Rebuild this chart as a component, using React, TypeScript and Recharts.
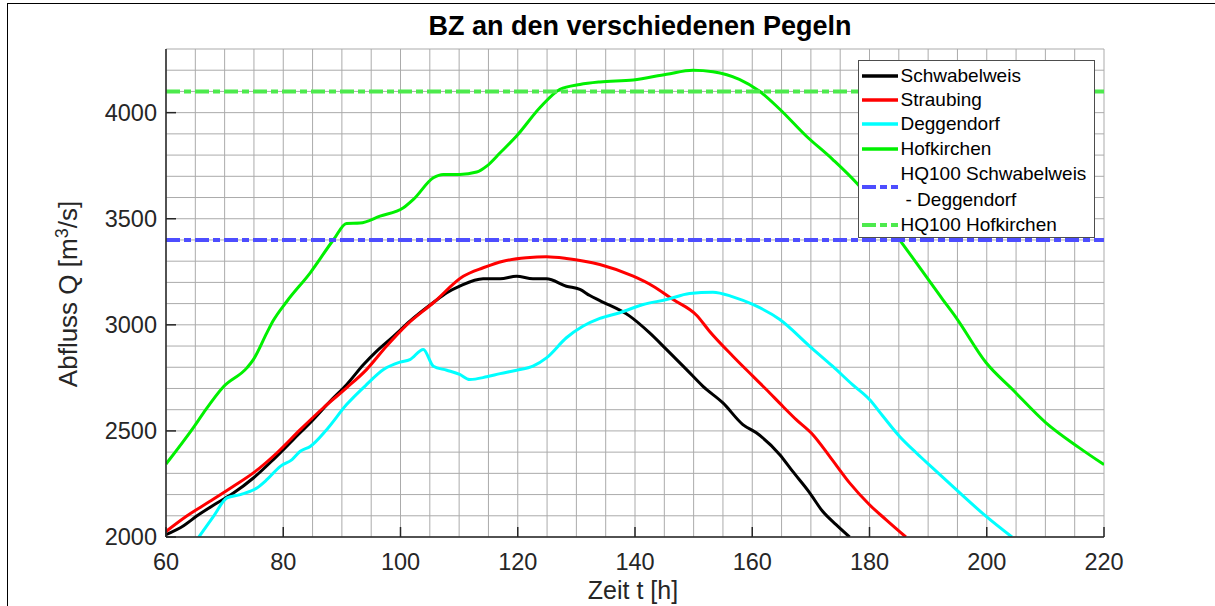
import { LineChart, Line, XAxis, YAxis, CartesianGrid, ReferenceLine, Legend } from 'recharts'

const FONT = '"Liberation Sans", Arial, Helvetica, sans-serif'

// Zeit t [h] / Abfluss Q [m3/s]
const schwabelweisT = [60, 63, 65.3, 68.7, 71.5, 74.9, 78.3, 81.7, 85.1, 88, 90.8, 93.7, 95.9, 98.8, 101.6, 105.6, 107.9, 110.1, 114.1, 117, 119.8, 122.6, 124.9, 128.3, 130.6, 132.3, 134, 139.1, 142.5, 145.4, 148.8, 151.6, 155, 158.4, 160.7, 164.7, 166.9, 169.8, 172, 174.3, 176.6]
const schwabelweisQ = [2011, 2053, 2100, 2160, 2207, 2278, 2365, 2459, 2553, 2640, 2718, 2813, 2875, 2946, 3017, 3105, 3151, 3182, 3217, 3217, 3229, 3217, 3217, 3182, 3167, 3138, 3114, 3041, 2962, 2883, 2789, 2710, 2632, 2530, 2491, 2388, 2309, 2208, 2121, 2058, 2000]

const straubingT = [60, 63.6, 67.5, 71.5, 74.9, 78.9, 82.9, 86.8, 90.8, 94.2, 97.6, 101.1, 105.6, 110.7, 114.1, 117.5, 121.5, 124.9, 128.3, 134, 139.7, 143.1, 146.5, 150.5, 152.7, 156.7, 160.1, 162.4, 165.2, 167.5, 170.3, 173.2, 176.6, 180, 182.8, 186.2]
const straubingQ = [2026, 2100, 2168, 2239, 2302, 2396, 2506, 2608, 2703, 2789, 2899, 3001, 3104, 3229, 3269, 3300, 3316, 3321, 3313, 3284, 3229, 3182, 3119, 3045, 2970, 2852, 2758, 2695, 2616, 2553, 2483, 2380, 2255, 2152, 2082, 2000]

const deggendorfT = [65.6, 68.1, 70.4, 72.7, 75.5, 77.2, 79.5, 81.5, 82.9, 84.6, 87.4, 90.8, 94.2, 97.1, 99.9, 101.6, 103.9, 105.6, 107.9, 110.1, 111.8, 114.7, 117, 119.8, 122.6, 124.9, 128.3, 131.1, 134, 137.4, 141.4, 145.4, 149.3, 153.3, 156.7, 160.1, 164.7, 169.8, 173.7, 177.1, 180, 182.3, 185.1, 188, 190.8, 194.8, 199.9, 204.3]
const deggendorfQ = [2000, 2097, 2184, 2200, 2231, 2270, 2333, 2365, 2404, 2427, 2506, 2624, 2718, 2789, 2824, 2836, 2884, 2805, 2786, 2766, 2742, 2755, 2770, 2786, 2805, 2844, 2939, 2993, 3030, 3057, 3096, 3119, 3148, 3154, 3132, 3096, 3025, 2899, 2805, 2718, 2648, 2569, 2475, 2396, 2325, 2223, 2097, 2000]

const hofkirchenT = [60, 64.7, 66.4, 69.8, 73.8, 74.9, 77.2, 78.3, 80.6, 84.6, 88.6, 90.8, 93.1, 96.5, 100.5, 102.2, 105.6, 107.3, 110.1, 113, 114.7, 117, 119.8, 123.8, 127.2, 130.6, 134, 139.7, 145.4, 149.9, 153.3, 157.8, 161.2, 164.7, 169.2, 173.7, 178, 185.1, 192.5, 194.8, 199.9, 204.4, 210.1, 215.8, 220]
const hofkirchenQ = [2344, 2517, 2585, 2708, 2797, 2836, 2962, 3020, 3110, 3245, 3402, 3478, 3480, 3512, 3552, 3591, 3693, 3709, 3709, 3720, 3748, 3811, 3890, 4024, 4110, 4133, 4145, 4154, 4181, 4200, 4193, 4157, 4102, 4016, 3890, 3780, 3662, 3402, 3119, 3033, 2821, 2695, 2538, 2420, 2341]

const hq100Schwabelweis = 3400
const hq100Hofkirchen = 4100

const xTicks = [60, 80, 100, 120, 140, 160, 180, 200, 220]
const yTicks = [2000, 2500, 3000, 3500, 4000]
// minor grid every 5 h and 100 m3/s
const gridX = Array.from({ length: 33 }, (_, i) => 60 + i * 5)
const gridY = Array.from({ length: 24 }, (_, i) => 2000 + i * 100)

const toData = (t: number[], q: number[]) => t.map((v, i) => ({ t: v, q: q[i] }))

const series = [
  { name: 'Schwabelweis', color: '#000000', data: toData(schwabelweisT, schwabelweisQ) },
  { name: 'Straubing', color: '#ff0000', data: toData(straubingT, straubingQ) },
  { name: 'Deggendorf', color: '#00ffff', data: toData(deggendorfT, deggendorfQ) },
  { name: 'Hofkirchen', color: '#00f000', data: toData(hofkirchenT, hofkirchenQ) },
]

const DASH = '14 4 7 4'
const BLUE = '#4d4dff'
const LIGHT_GREEN = '#4dea4d'

const legendItems = [
  ...series.map(s => ({ lines: [s.name], color: s.color, dash: undefined as string | undefined })),
  { lines: ['HQ100 Schwabelweis', '- Deggendorf'], color: BLUE, dash: DASH },
  { lines: ['HQ100 Hofkirchen'], color: LIGHT_GREEN, dash: DASH },
]

function LegendBox() {
  return (
    <div
      style={{
        width: 237,
        height: 178,
        boxSizing: 'border-box',
        border: '1.5px solid #4d4d4d',
        background: '#fff',
        paddingTop: 2.5,
        fontFamily: FONT,
        fontSize: 19,
        color: '#000',
      }}
    >
      {legendItems.map(item => (
        <div
          key={item.lines[0]}
          style={{ display: 'flex', alignItems: 'center', height: item.lines.length > 1 ? 52 : 24.4 }}
        >
          <svg width={36} height={8} style={{ marginLeft: 2.5, marginRight: 3, flex: 'none' }}>
            <line
              x1={0}
              x2={36}
              y1={4}
              y2={4}
              stroke={item.color}
              strokeWidth={item.dash ? 4 : 3.5}
              strokeDasharray={item.dash}
            />
          </svg>
          <div style={{ lineHeight: '26px', whiteSpace: 'nowrap' }}>
            {item.lines.map((l, i) => (
              <div key={l} style={{ paddingLeft: i > 0 ? 5 : 0 }}>{l}</div>
            ))}
          </div>
        </div>
      ))}
    </div>
  )
}

// eslint-disable-next-line @typescript-eslint/no-explicit-any
function YLabel({ viewBox }: any) {
  const x = viewBox.x + 77
  const y = viewBox.y + viewBox.height / 2 + 1
  return (
    <text x={x} y={y} transform={`rotate(-90 ${x} ${y})`} textAnchor="middle" fill="#262626" fontFamily={FONT} fontSize={26}>
      Abfluss Q [m
      <tspan dy={-9} fontSize={18}>3</tspan>
      <tspan dy={9}>/s]</tspan>
    </text>
  )
}

// eslint-disable-next-line @typescript-eslint/no-explicit-any
function XLabel({ viewBox }: any) {
  return (
    <text x={viewBox.x + viewBox.width / 2 - 2} y={viewBox.y + 62} textAnchor="middle" fill="#262626" fontFamily={FONT} fontSize={25}>
      Zeit t [h]
    </text>
  )
}

const tickStyle = { fill: '#262626', fontSize: 23.5, fontFamily: FONT }
const axisStyle = { stroke: '#262626', strokeWidth: 1.5 }

export default function App() {
  return (
    <div style={{ position: 'absolute', left: 0, top: 0, width: 1215, height: 606, background: '#fff', overflow: 'hidden' }}>
      <div style={{ position: 'absolute', left: 7, top: 3, width: 1300, height: 700, borderLeft: '1.5px solid #000', borderTop: '1.5px solid #000' }} />
      <div
        style={{
          position: 'absolute',
          left: 340,
          width: 600,
          top: 13,
          textAlign: 'center',
          fontFamily: FONT,
          fontWeight: 'bold',
          fontSize: 27,
          lineHeight: '26px',
          color: '#000',
          whiteSpace: 'nowrap',
        }}
      >
        BZ an den verschiedenen Pegeln
      </div>
      <div style={{ position: 'absolute', left: 0, top: 0 }}>
        <LineChart width={1215} height={606} margin={{ top: 49, right: 111, bottom: 0, left: 0 }}>
          <CartesianGrid horizontalValues={gridY} verticalValues={gridX} stroke="#ababab" strokeWidth={1} />
          <XAxis
            dataKey="t"
            type="number"
            domain={[60, 220]}
            ticks={xTicks}
            interval={0}
            allowDataOverflow
            height={69}
            tick={tickStyle}
            tickSize={-10}
            tickMargin={26}
            tickLine={axisStyle}
            axisLine={axisStyle}
            label={<XLabel />}
          />
          <YAxis
            type="number"
            domain={[2000, 4300]}
            ticks={yTicks}
            interval={0}
            allowDataOverflow
            width={166}
            tick={tickStyle}
            tickSize={-10}
            tickMargin={19}
            tickLine={axisStyle}
            axisLine={axisStyle}
            label={<YLabel />}
          />
          {series.map(s => (
            <Line
              key={s.name}
              data={s.data}
              dataKey="q"
              name={s.name}
              type="monotone"
              stroke={s.color}
              strokeWidth={3}
              dot={false}
              activeDot={false}
              isAnimationActive={false}
            />
          ))}
          <ReferenceLine y={hq100Schwabelweis} stroke={BLUE} strokeWidth={4} strokeDasharray={DASH} />
          <ReferenceLine y={hq100Hofkirchen} stroke={LIGHT_GREEN} strokeWidth={4} strokeDasharray={DASH} />
          <Legend
            layout="horizontal"
            verticalAlign="middle"
            align="center"
            content={<LegendBox />}
            wrapperStyle={{ left: 858, top: 60, width: 237, height: 178 }}
          />
        </LineChart>
      </div>
    </div>
  )
}
